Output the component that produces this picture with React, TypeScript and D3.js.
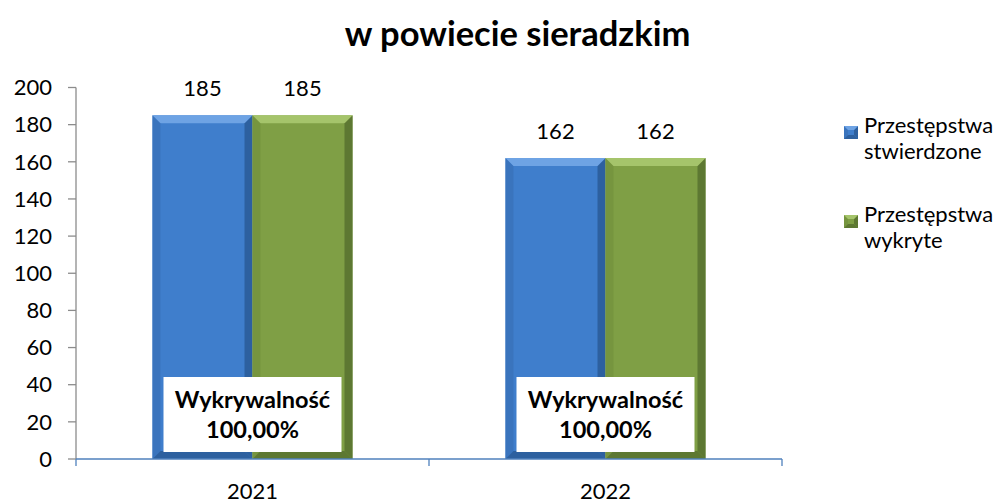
import React from "react";
import * as d3 from "d3";

const categories = ["2021", "2022"];
const seriesNames = ["Przestępstwa stwierdzone", "Przestępstwa wykryte"];
const stwierdzone = [185, 162];
const wykryte = [185, 162];
const detection = ["100,00%", "100,00%"];
const yTicks = [0, 20, 40, 60, 80, 100, 120, 140, 160, 180, 200];
const title = "w powiecie sieradzkim";

const colors = [
  { main: "#3f7ecc", light: "#6ea3e4", dark: "#2d609f", side: "#3a74bd" },
  { main: "#7f9f45", light: "#a5c46b", dark: "#5d7832", side: "#76953f" },
];

const W = 996;
const H = 503;
const left = 76;
const right = 782;
const top = 87.5;
const bottom = 459;
const FONT = "Lato, 'Open Sans', sans-serif";

function BevelBar({ x, y, w, h, c, b0 = 8 }: { x: number; y: number; w: number; h: number; c: typeof colors[0]; b0?: number }) {
  const b = Math.min(b0, h / 2);
  const x2 = x + w;
  const y2 = y + h;
  return (
    <g>
      <rect x={x} y={y} width={w} height={h} fill={c.main} />
      <polygon points={`${x},${y} ${x + b},${y + b} ${x + b},${y2 - b} ${x},${y2}`} fill={c.side} />
      <polygon points={`${x2},${y} ${x2},${y2} ${x2 - b},${y2 - b} ${x2 - b},${y + b}`} fill={c.dark} />
      <polygon points={`${x},${y2} ${x2},${y2} ${x2 - b},${y2 - b} ${x + b},${y2 - b}`} fill={c.dark} />
      <polygon points={`${x},${y} ${x2},${y} ${x2 - b},${y + b} ${x + b},${y + b}`} fill={c.light} />
    </g>
  );
}

export default function App() {
  const y = d3.scaleLinear().domain([0, 200]).range([bottom, top]);
  const x0 = d3.scaleBand().domain(categories).range([left, right]).paddingInner(0).paddingOuter(0);
  const barW = 100;
  const series = [stwierdzone, wykryte];

  return (
    <svg width={W} height={H} style={{ position: "absolute", left: 0, top: 0 }} fontFamily={FONT}>
      <rect width={W} height={H} fill="#fff" />
      <text x={517.5} y={46} textAnchor="middle" fontSize={34.5} fontWeight="bold" fill="#000">
        {title}
      </text>

      {/* y axis */}
      <line x1={left} x2={left} y1={top} y2={bottom} stroke="#8c8c8c" strokeWidth={1.3} />
      {yTicks.map((t) => (
        <g key={t}>
          <line x1={left - 8} x2={left} y1={y(t)} y2={y(t)} stroke="#8c8c8c" strokeWidth={1.3} />
          <text x={52} y={y(t)} dy="0.35em" textAnchor="end" fontSize={22} fill="#000">
            {t}
          </text>
        </g>
      ))}

      {/* bars */}
      {categories.map((cat, i) => {
        const cx = (x0(cat) as number) + x0.bandwidth() / 2;
        return (
          <g key={cat}>
            {series.map((s, j) => {
              const bx = cx - barW + j * barW;
              return (
                <g key={j}>
                  <BevelBar x={bx} y={y(s[i])} w={barW} h={bottom - y(s[i])} c={colors[j]} />
                  <text x={bx + barW / 2} y={y(s[i]) - 19} textAnchor="middle" fontSize={22} fill="#000">
                    {s[i]}
                  </text>
                </g>
              );
            })}
            <rect x={cx - 89} y={377} width={178} height={75} fill="#fff" />
            <text x={cx} y={407.5} textAnchor="middle" fontSize={23.5} fontWeight="bold" fill="#000">
              Wykrywalność
            </text>
            <text x={cx} y={438} textAnchor="middle" fontSize={23.5} fontWeight="bold" fill="#000">
              {detection[i]}
            </text>
            <text x={cx} y={499} textAnchor="middle" fontSize={22} fill="#000">
              {cat}
            </text>
          </g>
        );
      })}

      {/* x axis */}
      <line x1={left} x2={right} y1={bottom} y2={bottom} stroke="#4f81bd" strokeWidth={1.3} />
      {[left, (left + right) / 2, right].map((tx, k) => (
        <line key={k} x1={tx} x2={tx} y1={bottom} y2={bottom + 7} stroke="#4f81bd" strokeWidth={1.3} />
      ))}

      {/* legend */}
      {seriesNames.map((name, j) => {
        const ly = 133 + j * 89;
        const parts = name.split(" ");
        return (
          <g key={name}>
            <BevelBar x={844} y={ly - 7} w={14} h={13} c={colors[j]} b0={4} />
            <text x={864} y={ly} fontSize={22} fill="#000">
              {parts[0]}
            </text>
            <text x={864} y={ly + 26} fontSize={22} fill="#000">
              {parts[1]}
            </text>
          </g>
        );
      })}
    </svg>
  );
}
